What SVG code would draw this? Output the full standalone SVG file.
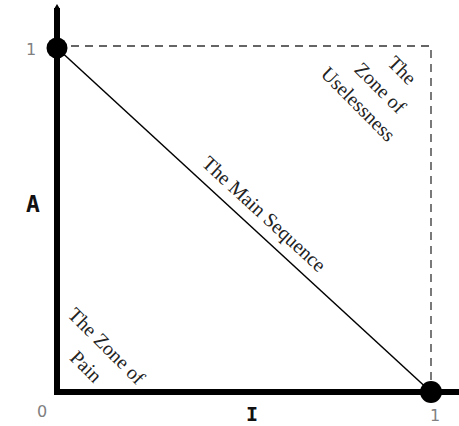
<svg xmlns="http://www.w3.org/2000/svg" width="459" height="426" viewBox="0 0 459 426">
<style>
.zone{font-family:"Liberation Serif",serif;font-size:20px;fill:#222;text-anchor:middle}
.tick{font-family:"DejaVu Sans",sans-serif;font-size:16px;fill:#808080;text-anchor:middle}
.axl{font-family:"DejaVu Sans Mono",monospace;font-weight:bold;fill:#111;text-anchor:middle}
</style>
<rect width="459" height="426" fill="#fff"/>
<g id="connectors">
<path d="M57,46 H431 V392" fill="none" stroke="#333" stroke-width="1.3" stroke-dasharray="8,6"/>
<line x1="57" y1="48" x2="431" y2="392" stroke="#000" stroke-width="1.5"/>
<path d="M57,8 V392 H459" fill="none" stroke="#000" stroke-width="6" stroke-linejoin="miter"/>
<polygon points="54,9 57,4 60,9" fill="#000"/>
</g>
<g id="dot-top"><circle cx="57" cy="48" r="10.5" fill="#000"/></g>
<g id="dot-right"><circle cx="431" cy="392" r="11" fill="#000"/></g>
<g id="tick-labels">
<text class="tick" x="31" y="55">1</text>
<text class="tick" x="42" y="417">0</text>
<text class="tick" x="435" y="421">1</text>
</g>
<g id="axis-labels">
<text class="axl" x="252" y="421" font-size="20">I</text>
<text class="axl" x="33" y="212" font-size="23">A</text>
</g>
<g id="main-sequence"><text class="zone" transform="translate(259.5,219) rotate(42.6)">The Main Sequence</text></g>
<g id="zone-uselessness" transform="rotate(45)">
<text class="zone" x="334" y="-228">The</text>
<text class="zone" x="331" y="-200">Zone of</text>
<text class="zone" x="327" y="-173">Uselessness</text>
</g>
<g id="zone-pain" transform="rotate(45)">
<text class="zone" x="320" y="176">The Zone of</text>
<text class="zone" x="320" y="205">Pain</text>
</g>
</svg>
